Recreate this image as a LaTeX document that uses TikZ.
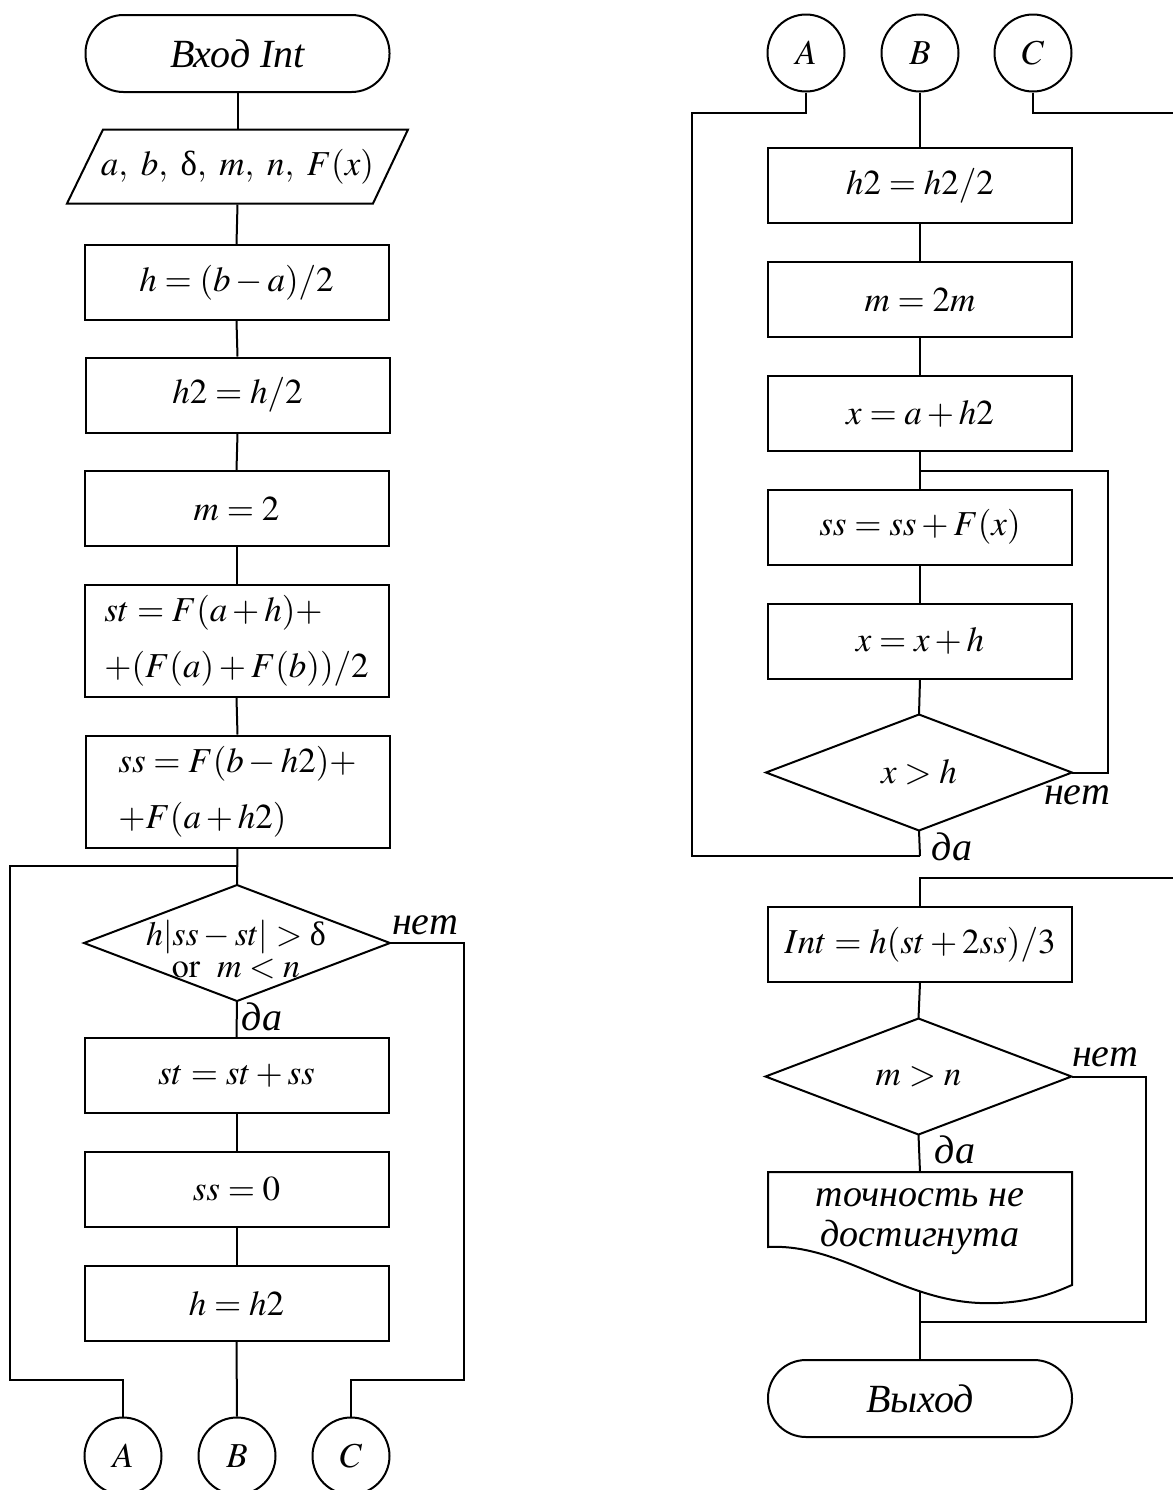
\documentclass[tikz,border=0pt]{standalone}
\usepackage{mathptmx}
\usepackage{fontspec}
\setmainfont{Liberation Serif}
\begin{document}
\begin{tikzpicture}[x=0.5pt,y=-0.5pt, line width=1pt,
 every node/.style={font=\fontsize{17.5}{21}\selectfont},
 proc/.style={draw, rectangle, minimum width=152pt, minimum height=37.5pt, inner sep=0pt},
 tall/.style={proc, minimum height=56pt, align=left},
 term/.style={draw, rectangle, rounded corners=19pt, minimum width=152pt, minimum height=38.5pt, inner sep=0pt, font=\fontsize{20}{24}\selectfont\itshape},
 conn/.style={draw, circle, minimum size=38.5pt, inner sep=0pt},
 dec/.style={rectangle, minimum width=152pt, minimum height=57pt, inner sep=0pt},
 txt/.style={inner sep=0pt, align=center},
 lbl/.style={font=\fontsize{20}{24}\selectfont\itshape, inner sep=0pt}]
\useasboundingbox (0,0) rectangle (1173,1490);
% ---------- left column ----------
\node[term] (start) at (237.5,53.5) {Вход Int};
\node[rectangle, minimum width=152pt, minimum height=37pt, inner sep=0pt] (in) at (237.5,166.5) {$a,\ b,\ \mbox{δ},\ m,\ n,\ F(x)$};
\draw (103,129.5) -- (408,129.5) -- (373,203.5) -- (67,203.5) -- cycle;
\node[proc] (b1) at (236.5,282.5) {$h=(b-a)/2$};
\node[proc] (b2) at (237.5,395) {$h2=h/2$};
\node[proc] (b3) at (236.5,508.5) {$m=2$};
\node[tall] (b4) at (236.5,641) {$st=F(a+h)+$\\[7pt]$+(F(a)+F(b))/2$};
\node[tall] (b5) at (237.5,791.5) {$ss=F(b-h2)+$\\[7pt]$+F(a+h2)$};
\node[dec] (d1) at (237,943) {};
\draw (d1.north) -- (d1.east) -- (d1.south) -- (d1.west) -- cycle;
\node[txt, font=\fontsize{17}{16}\selectfont] (d1t) at (236,950) {$h|ss-st|>\mbox{δ}$\\$\mathrm{or}\ \ m<n$};
\node[proc] (b6) at (236.5,1075.5) {$st=st+ss$};
\node[proc] (b7) at (236.5,1189.5) {$ss=0$};
\node[proc] (b8) at (236.5,1303.5) {$h=h2$};
\node[conn] (cA) at (123,1456) {$A$};
\node[conn] (cB) at (237,1456) {$B$};
\node[conn] (cC) at (351,1456) {$C$};
\node[lbl] (n1) at (425,925) {нет};
\node[lbl] (y1) at (262,1017) {да};
\coordinate (j1) at (237,866);
\draw (start.south) -- (in.north);
\draw (in.south) -- (b1.north);
\draw (b1.south) -- (b2.north);
\draw (b2.south) -- (b3.north);
\draw (b3.south) -- (b4.north);
\draw (b4.south) -- (b5.north);
\draw (b5.south) -- (d1.north);
\draw (cA.north) |- (10,1380) |- (j1);
\draw (d1.east) -| (464,1380) -| (cC.north);
\draw (d1.south) -- (b6.north);
\draw (b6.south) -- (b7.north);
\draw (b7.south) -- (b8.north);
\draw (b8.south) -- (cB.north);
% ---------- right column ----------
\node[conn] (rA) at (806,53) {$A$};
\node[conn] (rB) at (920,53) {$B$};
\node[conn] (rC) at (1033,53) {$C$};
\node[proc] (r1) at (920,185.5) {$h2=h2/2$};
\node[proc] (r2) at (920,299.5) {$m=2m$};
\node[proc] (r3) at (920,413.5) {$x=a+h2$};
\node[proc] (r4) at (920,527) {$ss=ss+F(x)$};
\node[proc] (r5) at (920,641) {$x=x+h$};
\node[dec] (d2) at (919,772.5) {$x>h$};
\draw (d2.north) -- (d2.east) -- (d2.south) -- (d2.west) -- cycle;
\node[proc] (r6) at (920,944.5) {$Int=h(st+2ss)/3$};
\node[dec] (d3) at (918.5,1076.5) {$m>n$};
\draw (d3.north) -- (d3.east) -- (d3.south) -- (d3.west) -- cycle;
\node[rectangle, minimum width=152pt, minimum height=40pt, inner sep=0pt, align=center, font=\fontsize{19}{20}\selectfont\itshape] (doc) at (920,1222) {точность не\\достигнута};
\draw (768,1172) -- (1072,1172) -- (1072,1285)
  .. controls (1060,1290) and (1030,1305) .. (980,1303)
  .. controls (900,1300) and (840,1243) .. (768,1247) -- cycle;
\node[term] (end) at (920,1398.5) {Выход};
\node[lbl] (n2) at (1077,795) {нет};
\node[lbl] (y2) at (952,847) {да};
\node[lbl] (n3) at (1105,1057) {нет};
\node[lbl] (y3) at (955,1150) {да};
\coordinate (jA) at (920,856);
\coordinate (jL) at (920,471);
\coordinate (j3) at (920,1322);
\coordinate (db) at (920,1291);
\coordinate (dt) at (920,1172);
\draw (rA.south) |- (692,113) |- (jA);
\draw (d2.south) -- (jA);
\draw (rB.south) -- (r1.north);
\draw (rC.south) |- (1180,113);
\draw (r1.south) -- (r2.north);
\draw (r2.south) -- (r3.north);
\draw (r3.south) -- (r4.north);
\draw (r4.south) -- (r5.north);
\draw (r5.south) -- (d2.north);
\draw (d2.east) -| (1108,471) -- (jL);
\draw (r6.north) |- (1180,878);
\draw (r6.south) -- (d3.north);
\draw (d3.south) -- (dt);
\draw (d3.east) -| (1146,1322) -- (j3);
\draw (db) -- (end.north);
\end{tikzpicture}
\end{document}
